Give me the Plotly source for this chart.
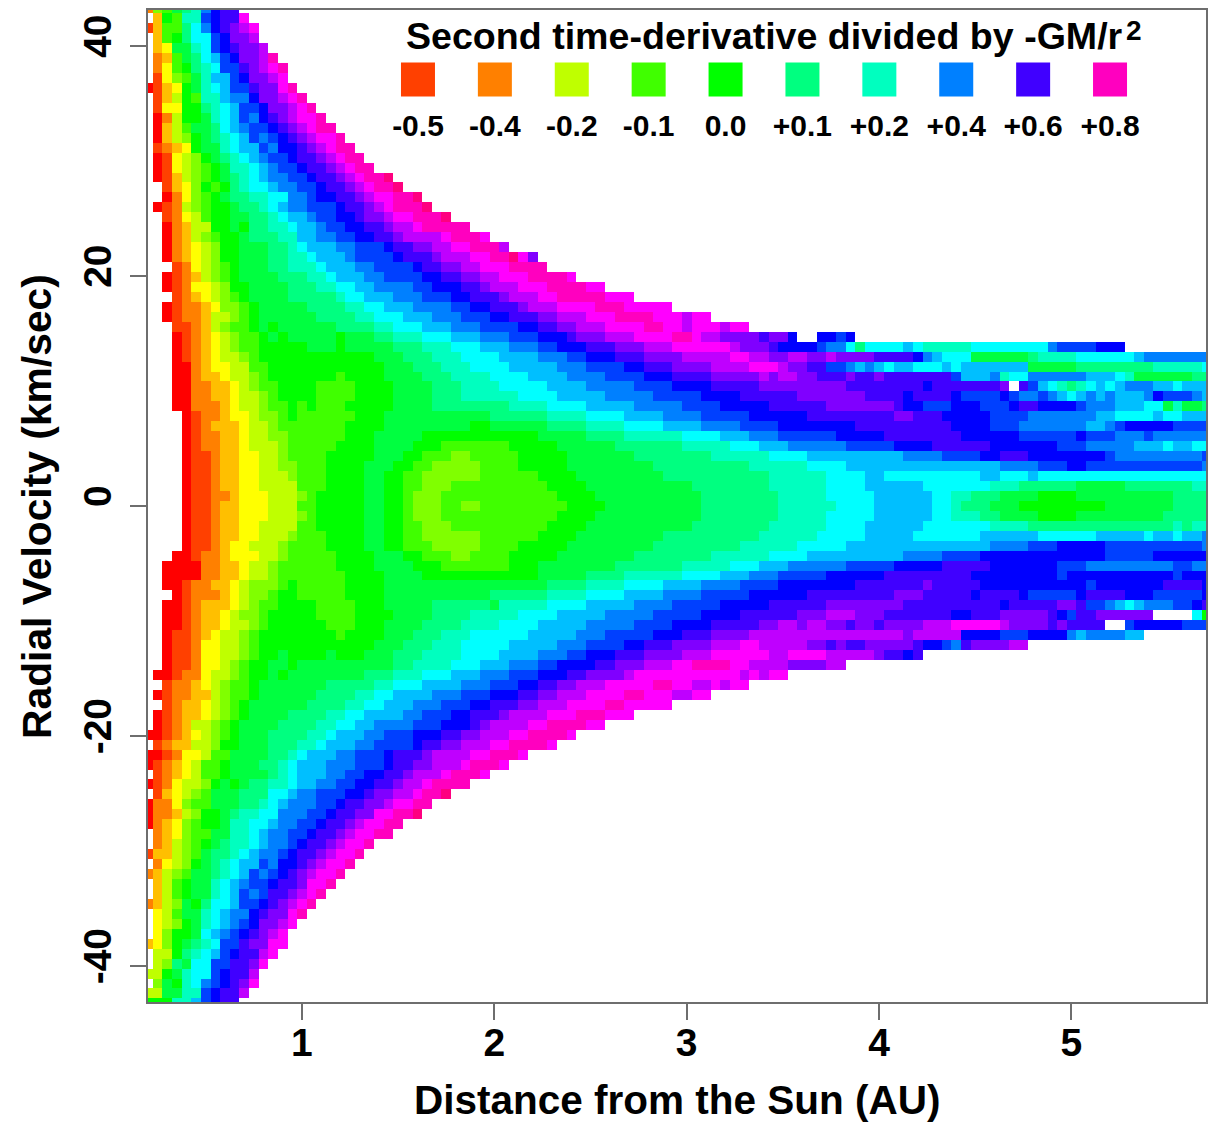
import numpy as np
import plotly.graph_objects as go

# Each row lists colour-band letter + last column of that band; top row first.
ROWS = [
"c0 g1 h2 j3 k4 l5 o6 q7 r9",
".0 d1 i2 h3 l5 p6 q7 r9 u10",
"b0 d1 h3 k4 m5 o6 q7 r8 s9 t10 u11",
".0 d1 h2 i3 k4 m6 p7 q8 s10 t11",
".0 d1 e2 j4 l5 m6 p7 q8 r9 s11 t12",
".0 c1 d2 h3 j4 k5 m6 n7 p8 q9 s11 t12 v13",
".0 c1 e2 h3 i4 k5 l6 m7 p9 r10 s11 t12 u13 v14",
".0 b1 e2 g3 h4 j5 l6 n8 p9 q10 s12 t13 u14",
"a0 b1 d2 e3 i4 j5 l6 m7 n8 p10 r11 s13 u14 v15",
".0 b1 d2 f3 i4 h5 l7 n8 o10 q11 s13 t14 u15 v16",
".0 b1 e3 i5 k6 l7 m8 n9 p11 q12 s14 t15 u16 v17",
".0 a1 c2 f3 i5 j6 l7 m8 n9 p10 o11 q12 r13 s14 t15 u17 v18",
".0 a1 d2 f3 h4 j6 k7 m8 n9 o10 p12 q13 r14 s15 t16 u17 v19",
".0 a1 d2 f3 g4 i5 j6 k7 l8 m9 n10 p11 o12 p13 q14 r15 s16 t17 u19 v20",
".0 b1 c2 d3 e4 i5 j7 l8 m9 n11 p12 o13 q15 r16 s17 t18 u19 v21",
".0 a1 b2 e3 f4 g5 i6 j7 k8 l9 m10 n11 o12 p14 q15 r17 s18 t19 u20 v22",
".0 a1 b2 e3 f4 g5 h6 i7 j8 l10 m11 n12 o13 p15 q16 r18 s19 t20 u21 v23",
".0 a1 b2 d3 f4 g5 h6 i7 j8 k9 l10 m11 n12 o14 p16 q17 r19 s20 t21 u22 v24 w25",
".1 b2 d3 e4 g5 i6 h7 i8 k9 l10 m12 n13 o15 p17 q18 r20 s21 t22 u23 v25 w26",
".1 a2 c3 e4 g5 h6 i7 j8 k10 l12 m14 o16 p17 q19 r21 s22 t23 u25 v27 w28",
".0 a1 b2 c3 f4 g5 h6 i8 j9 k11 l12 m13 n14 o16 p19 q20 r22 s23 t24 u25 v28 w29",
".1 b2 c3 e4 f5 h6 i8 j10 k12 l13 m14 n16 o17 p19 q21 r22 s24 t25 u27 v30 w31",
".1 a2 c3 d4 f6 i8 j9 i10 k12 l14 m15 n17 o18 p20 q22 r24 s25 t27 u28 v33",
".1 a2 c3 d4 f5 g6 h7 i9 j10 k13 l15 n17 o19 p21 q23 r25 s26 t30 u31 v34 u35",
".1 a2 c3 d4 e5 f6 g7 i9 j12 k14 l15 m16 n19 o21 p24 q25 r27 s29 t31 u33 v36 t37",
".1 a2 c3 d4 e5 f6 g7 i9 j12 k14 l16 m17 n20 o21 p25 q26 r29 s30 t33 u35 v37 w38 u39 s40",
".2 b3 c4 e5 f6 g7 h8 i9 j12 k14 l17 m18 n21 o23 p27 q28 r30 s32 t34 u37 v41",
".1 a2 b3 c4 d5 f6 g7 h8 i9 j13 k16 l18 m19 n22 o24 p28 q30 r32 s34 t36 u39 v43 u44",
".1 a2 b3 c4 e6 f7 g8 i10 j14 k17 l19 m21 n23 o27 p29 q32 r34 s35 t38 u41 v45 u47",
".2 b3 c4 d5 e6 f7 g8 h9 i10 j14 k19 l20 m22 n25 o28 p31 q33 r36 s37 t40 u42 v47 u50",
".1 a2 b3 c5 d6 e7 g9 h10 i11 j16 k20 l22 m24 n27 o31 p33 q35 r38 s39 t42 u46 v49 u54",
".1 a2 b3 c5 d6 f8 g9 h10 i11 j17 k21 l23 m26 n29 o32 p35 q37 r40 s42 t45 u48 v52 u55 t56 u58",
".2 b4 c5 d6 f7 g8 h10 i11 j12 i13 j19 k23 l25 m28 n31 o34 p38 q40 r42 s44 t47 u51 v53 u55 t56 u59 t60 u62",
".2 a3 b4 c5 d6 e7 f8 g9 h11 i12 j13 i14 j19 i20 j23 k25 l28 m31 n34 o37 p40 q43 r44 s47 t50 u54 v56 u57 t59 s63 r64 s66 q67 .69 q71 p72 q73",
".2 a3 b4 c5 d6 e7 f8 g9 h11 i16 j19 i20 j25 k28 l31 m34 n37 o40 p42 q45 r48 s51 t54 u60 t61 s64 r65 q69 p70 o72 m73 k74 m78 n79 m80 l85 m93 o94 p98 q101",
".2 a3 b4 c5 d6 e7 f9 g10 h11 i23 j26 k29 l32 m36 n40 o43 p45 q48 r51 s55 t60 u62 t64 s66 t68 s70 t71 s75 r79 q80 o81 n82 m85 j91 k92 l96 m102 n103 o110",
".2 a4 c5 d6 e8 f10 h12 i24 j27 k30 l33 m37 n42 o45 p49 q51 r54 s58 t62 u65 t66 s68 r70 p72 o73 n74 o75 n76 m77 n79 m82 n83 m84 n91 j96 k104 l109 m110",
".2 a4 c5 d7 e8 f10 g11 h12 i19 h20 i24 j28 k31 l35 m39 n43 o47 p51 q54 r58 s63 t64 s65 t67 s69 r72 s73 r75 s76 r83 p84 n87 o88 l89 m91 o97 n100 m101 l102 j108 k110",
".2 a4 c6 d8 e9 f10 g11 h13 i17 h21 i25 j29 k32 l36 m41 n45 o50 p54 q58 r63 s72 r80 q81 r88 s89 .90 r91 p92 n93 m94 l95 k96 l97 m98 n99 m100 n101 o104 n106 m107 n110",
".2 a4 c6 d8 e9 f11 g12 h13 i17 h21 i25 j29 k32 l38 m42 n47 o52 p57 q61 r67 s74 r78 q79 r83 q84 p88 q89 p90 o92 p93 o94 n95 m96 n97 o98 n99 o100 n103 o104 q105 p108 o109 n110",
".2 a4 c7 d8 e9 f11 g12 h14 i15 h16 i17 h20 i25 j29 k37 l41 m45 n50 o55 p59 q64 r70 s77 r78 q80 p83 q86 p89 q90 r92 q96 p97 o100 n103 m105 j106 l107 j109 k110",
".3 a4 b5 c7 d8 e10 f11 g13 h14 i15 h21 i24 j35 k41 l45 m49 n53 o57 p62 q68 r77 s79 r82 q87 p91 o98 n100 m104 n105 m107 n110",
".3 a4 b5 c6 d9 e10 f12 g13 h20 i24 j33 i35 j41 k45 l49 m53 n57 o61 p65 q73 r83 q87 p90 o97 n99 o100 p101 q106 p110",
".3 a4 b5 c7 d9 e10 f12 g14 h20 i23 j28 i40 j45 k49 l55 m59 n62 o65 p71 q76 r84 q90 p96 q97 p100 o103 p104 o110",
".3 a4 b5 c7 d9 e10 f13 g14 h19 i23 j27 i30 h37 i42 j48 k55 l60 m63 n66 o72 p77 q81 r87 q94 p97 o102 n105 m106 n108 m110",
".3 a4 b6 c7 d9 e11 f13 g14 h18 i23 j26 i28 h31 g33 h38 i43 j50 k58 l64 m68 n78 o82 p86 q88 r91 q99 p100 o109 p110",
".3 a4 b6 c7 d9 e11 f13 g15 h18 i22 j25 i27 h29 g34 h38 i43 j52 k62 l68 m72 n88 o92 p95 q97 p109 o110",
".3 a4 b6 c7 d9 e11 f14 g15 h18 i22 j24 i26 h28 g34 h40 i44 j53 k64 l70 m74 n76 m86 n88 m91 n92 m110",
".3 a4 b6 c7 d9 e11 f15 h18 i22 j24 i26 h28 g31 h41 i45 j56 k64 l70 m74 n80 m87 l90 k96 j101 k108 l110",
".3 a4 b6 c8 d9 e12 f15 g16 h17 i22 j24 i26 h27 g30 h42 i46 j57 k65 l70 m75 n81 m83 l85 k88 j92 i96 j106 k110",
".3 a4 b6 c7 d9 e12 f15 h17 i22 j24 i26 h27 g30 h32 g34 h43 i47 j57 k65 l71 m75 n81 m83 l84 k87 j90 i99 j106 k110",
".3 a4 b6 c7 d9 e12 f15 g16 h17 i22 j24 i26 h27 g30 h42 i46 j57 k65 l70 m75 n81 m83 l86 k88 j92 i96 j105 k110",
".3 a4 b6 c7 d9 e11 f15 h17 i22 j24 i26 h28 g31 h41 i45 j56 k64 l70 m74 n80 m87 l91 k106 l107 k108 l110",
".3 a4 b6 c7 d9 e11 f14 g15 h18 i22 j24 i26 h28 g34 h40 i44 j53 k63 l69 m74 n79 m86 n92 m98 n103 m104 n106 m107 n109 o110",
".3 a4 b6 c7 d8 e10 f13 g14 h18 i22 j24 i26 h29 g34 h38 i43 j52 k61 l67 m72 n87 o91 p94 q99 p109 o110",
".2 a4 b5 c7 d8 e11 f13 g14 h19 i23 j26 i28 h31 g33 h37 i42 j50 k58 l64 m68 n78 o82 p86 q99 p104 q110",
".1 a5 c7 d9 e10 f12 g13 h19 i23 j27 i30 h37 i40 j48 k55 l60 m63 n66 o72 p77 q82 r87 q94 p97 o106 p108 o110",
".1 a5 c7 d9 e10 f12 g13 h20 i24 j28 i40 j45 k49 l55 m59 n62 o65 p70 q76 r85 q94 p95 q106 p107 q110",
".1 a3 b4 c6 d8 e9 f10 g13 h14 i15 h20 i24 j41 k45 l49 m53 n57 o61 p65 q73 r80 s81 r86 q97 p98 q105 r109 q110",
".2 a3 b4 c7 d8 e9 f10 g12 h13 i15 h20 i24 j35 k41 l45 m49 n53 o57 p62 q68 r77 s80 r85 q86 r90 q91 p96 q97 r101 q104 p109 q110",
".1 a3 b4 c5 d8 e9 f10 g11 h13 i17 h21 i24 j29 k35 j36 l41 m45 n50 o54 p59 q64 r70 s78 r88 q89 r94 s96 r97 p99 o100 n101 m102 n103 o106 p108 q109 r110",
".1 a3 b4 c5 d7 e8 f9 g11 h12 i17 h21 i25 j29 k33 l38 m42 n47 o52 p57 q61 r67 s70 t73 s76 r83 q85 r88 s93 r94 q95 p96 r98 s104 .108 m109 i110",
".1 a3 b4 c5 d7 e8 f10 g11 h12 i18 h21 i24 j28 k32 l36 m40 n45 o50 p54 q58 r63 s65 t67 s68 t70 s72 r73 s75 r76 s80 t83 u88 t89 s93 r94 s95 r99 .101 p102 q107 p110",
".1 a2 b4 c5 d6 e7 f9 g10 h11 i19 h20 i24 j27 k30 l33 m39 n44 o47 p52 q55 r58 s62 t78 s79 t84 q88 p91 q95 o96 n97 o101 n103",
".1 a2 b4 c5 e7 f9 g10 h11 i23 j26 k29 l32 m37 n42 o45 p49 q51 r54 s58 t61 u63 t68 s70 r71 s72 r74 s79 r80 q82 p83 o84 r85 s89 t91",
".1 a2 b4 c5 e7 f9 g10 h11 i13 j14 i18 j19 i22 j25 k28 l32 m36 n40 o43 p45 q48 r51 s55 t58 u64 t66 u70 t75 s76 r78 q79 r80",
".1 a2 b4 c5 e7 f8 g9 h10 i12 j14 i15 j25 k27 l31 m34 n37 o40 p42 q46 r48 s51 t54 u56 v60 u62 t66 s70 t72",
".0 a2 b3 c5 e6 f8 g9 h10 i12 j13 i14 j22 k25 l28 m31 n34 o37 p40 q43 r45 s49 t50 u61 t62 u63 t64 u66",
".1 b2 c4 d5 e6 f7 g8 h10 i11 j18 k23 l25 m28 n32 o35 p38 q40 r42 s44 t47 u52 v54 u56 t58 u59 t60 u62",
".0 a1 b2 c4 d6 f7 g8 h10 i11 j17 k21 l23 m25 n29 o32 p35 q38 r40 s42 t45 u49 v51 u54 t56 u58",
".1 b2 c3 d5 e6 f7 g8 h9 i10 j16 k20 l22 m24 n27 o30 p33 q35 r38 s40 t43 u47 v49 u54",
".0 a1 b2 c3 d5 e6 f7 g8 h9 i10 j14 k18 l20 m22 n26 o28 p31 q33 r36 s37 t41 u44 v47 u50",
".0 a1 b2 c3 d4 f6 g7 h8 i9 j13 k17 l19 m21 n23 o27 p30 q33 r34 s35 t39 u41 v45 u47",
"a1 b2 c3 d4 e5 f6 g7 h8 i9 j12 k16 l18 m19 n22 o24 p27 q30 r32 s34 t37 u39 v43 u44",
".0 b1 c2 d4 f6 g7 i9 j12 k15 l17 m18 n21 o23 p27 q28 r30 s32 t35 u37 v41 u42",
"a1 b2 c3 e5 f6 h8 j12 k14 l15 m16 n19 o21 p24 q25 r28 s29 t33 u35 v38 u39",
"a0 b1 c2 d3 e4 f5 h7 i8 j11 k13 l14 m15 n18 o21 p24 q25 r27 s29 t32 u33 v36 u37",
".0 b1 c2 d3 e4 f5 h7 i8 j12 k13 l14 m15 n18 o20 p22 q24 r26 s27 t30 u31 v34 u35",
"a0 b1 c2 e3 f5 g6 i7 j8 i9 j10 k12 l14 m15 n17 o19 p21 q23 r25 s26 t28 u29 v33",
".0 b1 d2 e3 f4 g5 h6 j9 k12 m14 n15 o17 p20 q22 r23 s25 t27 u28 v30 w31",
"a0 c2 e3 g4 h6 j9 k11 l12 m13 n14 o17 p19 q20 r22 s24 t25 u27 v29",
"a0 c2 d3 f4 g5 i7 j8 k9 l11 m13 o16 p18 q19 r21 s23 u25 v27 w28",
"a0 c1 d2 e3 g4 h5 i7 j8 l10 m12 n13 o15 p17 q18 r20 s21 t22 u24 v26",
".0 c1 d2 e3 g4 h6 j8 l10 m11 n12 o14 p16 q17 r19 s20 t21 u23 v25",
".0 c1 d2 f3 g4 h5 i6 j7 k8 l10 m11 n12 o14 p15 q16 r18 s19 t20 u22 v23",
"b0 d2 f3 g4 h5 j6 k8 l9 m10 n11 o13 p14 q15 r17 s18 t19 u21 v22",
".0 c1 e2 f3 g4 i5 j6 k7 l8 m9 n11 p12 o13 q15 r16 s17 t18 u20 v21",
"c0 d1 f2 g3 h4 j6 k7 l8 m9 n10 p11 o12 p13 q14 r15 s16 t17 u19 v20",
".0 d1 f2 h3 i4 j6 l7 m8 n9 o10 p12 q13 r15 s16 u18 v19",
".0 d1 f2 h3 i4 j6 l7 m8 n9 p10 o11 p12 r14 s15 t16 u17 v18",
"c0 d1 f2 g3 j4 i5 k6 m8 n9 p11 q12 r13 s14 t15 u16 v17",
".0 e1 f2 h3 j5 l6 m7 n8 o10 q11 r12 s14 u15 v16",
".0 e1 f2 g3 i4 j5 l6 m7 n8 o9 p10 q11 s13 t14 u15",
".0 e1 g2 i4 j5 m6 n7 o8 p9 q10 r11 s12 t13 u14",
"d0 e1 g2 i3 j4 k5 l6 m7 p9 r10 s12 u14",
".0 f2 i3 k4 l5 m6 n7 p8 q9 r11 t12 u13",
".0 f1 g2 k3 j4 m6 p8 r10 s11 u12",
"f1 i2 j3 l4 m6 p7 q8 r10 t11",
".0 g1 j2 i3 l4 m5 o6 p7 q8 r9 s10 u11",
"f1 j3 l5 p6 q7 r9 t10",
"i2 l4 n5 p6 q7 r9",
]

BAND_LETTERS = "abcdefghijklmnopqrstuvw"
BAND_COLORS = [
    "#ff0000", "#ff4000", "#ff8000", "#ffbf00", "#ffff00", "#bfff00", "#80ff00", "#40ff00",
    "#00ff00", "#00ff40", "#00ff80", "#00ffbf", "#00ffff", "#00bfff", "#0080ff", "#0040ff",
    "#0000ff", "#4000ff", "#8000ff", "#bf00ff", "#ff00ff", "#ff00bf", "#ff0080",
]
LEGEND_LABELS = ["-0.5", "-0.4", "-0.2", "-0.1", "0.0", "+0.1", "+0.2", "+0.4", "+0.6", "+0.8"]
LEGEND_BANDS = ["b", "c", "f", "h", "i", "k", "l", "o", "r", "v"]
X_TICKS = [1, 2, 3, 4, 5]
Y_TICKS = [-40, -20, 0, 20, 40]

W, H = 1218, 1124
L, R, T, B = 148, 1206, 8, 1002
FONT = "Liberation Sans"
INK = "#000000"
FRAME = "#6e6e6e"

n_cols = 111
z = np.full((len(ROWS), n_cols), np.nan)
for i, row in enumerate(ROWS):
    start = 0
    for tok in row.split():
        end = int(tok[1:])
        if tok[0] != ".":
            z[i, start:end + 1] = BAND_LETTERS.index(tok[0])
        start = end + 1

x = 0.2 + 0.05 * np.arange(n_cols)
y = (50 - np.arange(len(ROWS))) * 0.8655

n = len(BAND_COLORS)
scale = []
for i, c in enumerate(BAND_COLORS):
    scale += [[i / n, c], [(i + 1) / n, c]]

fig = go.Figure()
fig.add_trace(go.Heatmap(x=x, y=y, z=z, colorscale=scale, zmin=-0.5, zmax=n - 0.5,
                         showscale=False, hoverongaps=False, zsmooth=False))

idx = list(range(len(LEGEND_LABELS)))
fig.add_trace(go.Scatter(x=idx, y=[1.04] * len(idx), mode="markers", xaxis="x2", yaxis="y2",
                         marker=dict(symbol="square", size=34, line_width=0,
                                     color=[BAND_COLORS[BAND_LETTERS.index(b)] for b in LEGEND_BANDS]),
                         showlegend=False, hoverinfo="skip"))
fig.add_trace(go.Scatter(x=idx, y=[0] * len(idx), mode="text", xaxis="x2", yaxis="y2",
                         text=LEGEND_LABELS, textposition="middle center",
                         textfont=dict(family=FONT, size=30, color=INK),
                         texttemplate="<b>%{text}</b>", showlegend=False, hoverinfo="skip"))

def ax(v):
    return (v - L) / (R - L)

def ay(v):
    return (B - v) / (B - T)

notes = [
    ("Second time-derivative divided by -GM/r", ax(764), ay(34), 37.6, 0),
    ("2", ax(1134), ay(29), 28, 0),
    ("Distance from the Sun (AU)", ax(677), ay(1100.5), 40.5, 0),
    ("Radial Velocity (km/sec)", ax(37), ay(506), 40.8, -90),
]
annotations = [dict(text=f"<b>{t}</b>", x=ex, y=ey, xref="paper", yref="paper", showarrow=False,
                    xanchor="center", yanchor="middle", textangle=ang,
                    font=dict(family=FONT, size=s, color=INK))
               for t, ex, ey, s, ang in notes]

axis_common = dict(showgrid=False, zeroline=False, showline=True, linecolor=FRAME, linewidth=2,
                   mirror=True, ticks="outside", ticklen=16, tickwidth=2, tickcolor=FRAME,
                   tickfont=dict(family=FONT, size=39, color=INK))

fig.update_layout(
    width=W, height=H, autosize=False,
    margin=dict(l=L, r=W - R, t=T, b=H - B, pad=0),
    plot_bgcolor="white", paper_bgcolor="white",
    showlegend=False, annotations=annotations,
    xaxis=dict(range=[0.2, 5.7], tickvals=X_TICKS, ticklabelstandoff=-11,
               ticktext=[f"<b>{t}</b>" for t in X_TICKS], tickangle=0, **axis_common),
    yaxis=dict(range=[-43.13, 43.13], tickvals=Y_TICKS, ticklabelstandoff=3, ticklabelshift=-4,
               ticktext=[f"<b>{t}</b>" for t in Y_TICKS], tickangle=-90, **axis_common),
    xaxis2=dict(overlaying="x", range=[-3.511, 10.248], visible=False, fixedrange=True),
    yaxis2=dict(overlaying="y", range=[-18.7, 2.53], visible=False, fixedrange=True),
)

fig.write_html("out.html", config={"displayModeBar": False},
               post_script="document.body.style.margin='0';")
